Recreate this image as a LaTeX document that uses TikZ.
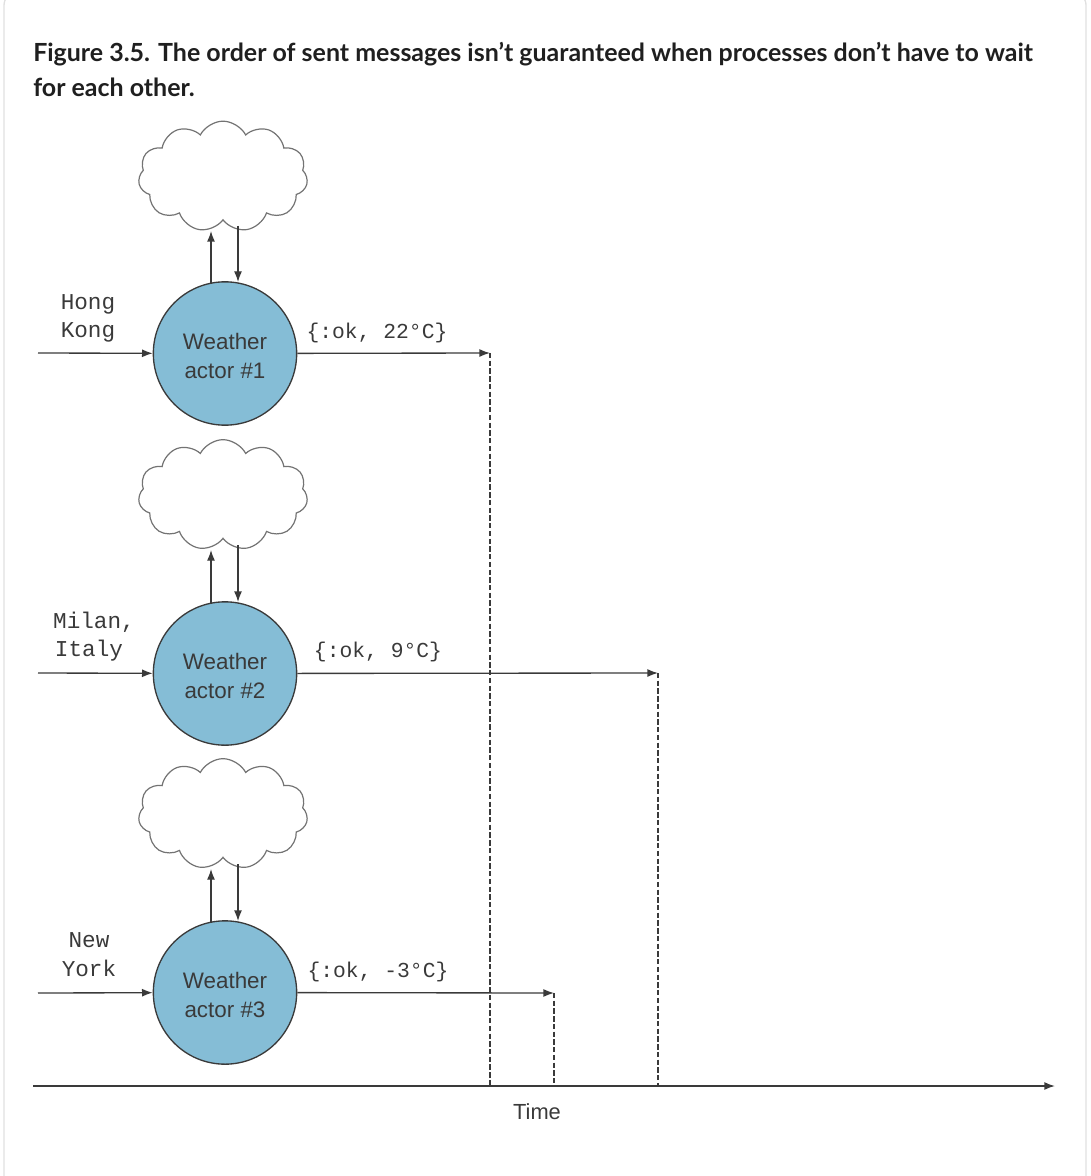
\documentclass[tikz,border=0pt]{standalone}
\usepackage{fontspec}
\setmainfont{Liberation Sans}
\newfontfamily\titlefont{Lato}
\newfontfamily\monofont{Liberation Mono}
\usetikzlibrary{arrows.meta,shapes.symbols}
\definecolor{actorblue}{HTML}{85BDD6}
\definecolor{inkgray}{HTML}{3A3A3A}
\newcommand{\actorstrut}{\rule{0pt}{15.5pt}}
\begin{document}
\begin{tikzpicture}[x=.75pt,y=-.75pt]
\tikzset{
  every node/.style={inner sep=0,text=inkgray},
  titletext/.style={anchor=base west,font=\titlefont\bfseries\fontsize{18.72}{22}\selectfont,text=black!88},
  actor/.style={circle,draw=inkgray,line width=1pt,fill=actorblue,minimum size=107.5pt,align=center,font=\fontsize{16.8}{21.8}\selectfont},
  sky/.style={cloud,cloud puffs=11,cloud puff arc=125,aspect=1.6,draw=black!55,line width=.9pt,fill=white,minimum width=127pt,minimum height=83pt},
  mono/.style={font=\monofont\fontsize{16}{18}\selectfont},
  city/.style={font=\monofont\fontsize{17}{18}\selectfont},
  flow/.style={-{Latex[length=8pt,width=6pt]},draw=inkgray,line width=1pt},
  wait/.style={dashed,draw=inkgray,line width=1pt,dash pattern=on 4pt off 1.8pt}
}
    \useasboundingbox (0,0) rectangle (1090,1176);
    \draw[black!12,line width=1pt,rounded corners=10pt] (4,-8) rectangle (1086,1190);

    \node[titletext] (title1) at (33,62) {Figure 3.5. The order of sent messages isn’t guaranteed when processes don’t have to wait};
    \node[titletext] (title2) at (33,97) {for each other.};

    % first actor
    \node[sky] (cloud1) at (223,176.5) {};
    \node[actor] (actor1) at (225,353.5) {\actorstrut Weather\\actor \#1};
    \node[city] (city1a) at (88,304) {Hong};
    \node[city] (city1b) at (88,332) {Kong};
    \node[mono] (reply1) at (377,333) {\{:ok, 22°C\}};
    \coordinate (up1a) at (211,283);
    \coordinate (up1b) at (211,231);
    \coordinate (dn1a) at (238,226);
    \coordinate (dn1b) at (238,282);
    \coordinate (in1) at (38,353);
    \coordinate (out1) at (490,353);
    \coordinate (tick1) at (490,1086);

    % second actor
    \node[sky] (cloud2) at (223,495) {};
    \node[actor] (actor2) at (225,673.5) {\actorstrut Weather\\actor \#2};
    \node[city] (city2a) at (94,622) {Milan,};
    \node[city] (city2b) at (89,651) {Italy};
    \node[mono] (reply2) at (378,652) {\{:ok, 9°C\}};
    \coordinate (up2a) at (211,603);
    \coordinate (up2b) at (211,550);
    \coordinate (dn2a) at (238,545);
    \coordinate (dn2b) at (238,602);
    \coordinate (in2) at (38,673);
    \coordinate (out2) at (658,673);
    \coordinate (tick2) at (658,1086);

    % third actor
    \node[sky] (cloud3) at (223,814) {};
    \node[actor] (actor3) at (225,992.5) {\actorstrut Weather\\actor \#3};
    \node[city] (city3a) at (89,940) {New};
    \node[city] (city3b) at (89,968) {York};
    \node[mono] (reply3) at (378,972) {\{:ok, -3°C\}};
    \coordinate (up3a) at (211,922);
    \coordinate (up3b) at (211,869);
    \coordinate (dn3a) at (238,864);
    \coordinate (dn3b) at (238,921);
    \coordinate (in3) at (38,993);
    \coordinate (out3) at (554,993);
    \coordinate (tick3) at (554,1086);

    \draw[flow] (up1a) -- (up1b);
    \draw[flow] (dn1a) -- (dn1b);
    \draw[flow] (in1) -- (actor1);
    \draw[flow] (actor1) -- (out1);
    \draw[flow] (up2a) -- (up2b);
    \draw[flow] (dn2a) -- (dn2b);
    \draw[flow] (in2) -- (actor2);
    \draw[flow] (actor2) -- (out2);
    \draw[flow] (up3a) -- (up3b);
    \draw[flow] (dn3a) -- (dn3b);
    \draw[flow] (in3) -- (actor3);
    \draw[flow] (actor3) -- (out3);

    \draw[wait] (out1) -- (tick1);
    \draw[wait] (out2) -- (tick2);
    \draw[wait] (out3) -- (tick3);

    % time axis
    \coordinate (axis0) at (33,1086);
    \coordinate (axis1) at (1055,1086);
    \draw[flow,line width=1.2pt] (axis0) -- (axis1);
    \node[font=\fontsize{16.4}{18}\selectfont] (time) at (537,1112) {Time};
\end{tikzpicture}
\end{document}
